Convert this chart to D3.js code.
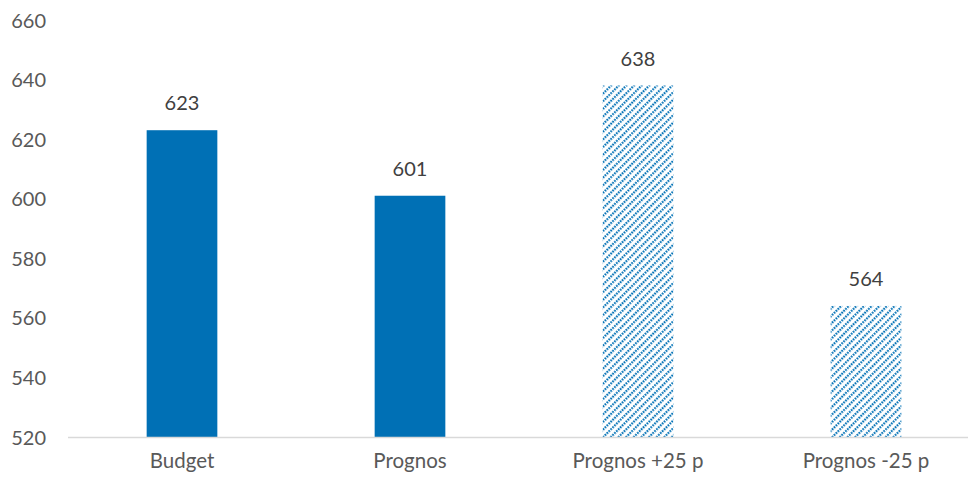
<!DOCTYPE html>
<html><head><meta charset="utf-8">
<script src="https://cdn.jsdelivr.net/npm/d3@7"></script>
<style>body{margin:0;background:#fff}svg{display:block}text{font-family:Lato,"Open Sans",sans-serif}</style>
</head><body><svg id="c" width="968" height="483"></svg>
<script>
const categories = ["Budget","Prognos","Prognos +25 p","Prognos -25 p"];
const values = [623,601,638,564];
const hatched = [false,false,true,true];
const yTicks = [520,540,560,580,600,620,640,660];

const svg = d3.select("#c");
const x = d3.scaleBand().domain(categories).range([68,980]).paddingInner(0.69).paddingOuter(0.345);
const y = d3.scaleLinear().domain([520,660]).range([437,20]);
const blue = "#0070b5";

const defs = svg.append("defs");
const s = 5.4;
const p = defs.append("pattern").attr("id","hatch").attr("patternUnits","userSpaceOnUse")
  .attr("width",s).attr("height",s).attr("patternTransform","rotate(45)");
p.append("rect").attr("width",s).attr("height",s).attr("fill","#fff");
p.append("line").attr("x1",1.2).attr("y1",0).attr("x2",1.2).attr("y2",s)
  .attr("stroke",blue).attr("stroke-width",2).attr("stroke-dasharray","1.9 0.8");

const yAxis = d3.axisLeft(y).tickValues(yTicks).tickSize(0).tickPadding(0);
const ga = svg.append("g").attr("transform","translate(46,0)").call(yAxis);
ga.select(".domain").remove();
ga.selectAll("text").attr("fill","#595959").style("font-size","20px").attr("dy","0.35em");

svg.append("g").selectAll("rect").data(categories).join("rect")
  .attr("x",d=>x(d)).attr("width",x.bandwidth())
  .attr("y",(d,i)=>y(values[i])).attr("height",(d,i)=>y(520)-y(values[i]))
  .attr("fill",(d,i)=>hatched[i]?"url(#hatch)":blue);

svg.append("line").attr("x1",68).attr("x2",968).attr("y1",437.5).attr("y2",437.5)
  .attr("stroke","#d9d9d9").attr("stroke-width",1.3);

const xAxis = d3.axisBottom(x).tickSize(0).tickPadding(0);
const gx = svg.append("g").attr("transform","translate(0,437)").call(xAxis);
gx.select(".domain").remove();
gx.selectAll("text").attr("fill","#595959").style("font-size","20.5px").attr("dy","1.5em");

svg.append("g").selectAll("text").data(categories).join("text")
  .attr("x",d=>x(d)+x.bandwidth()/2).attr("y",(d,i)=>y(values[i])-27).attr("dy","0.35em")
  .attr("text-anchor","middle").attr("fill","#404040").style("font-size","20px")
  .text((d,i)=>values[i]);
</script></body></html>
